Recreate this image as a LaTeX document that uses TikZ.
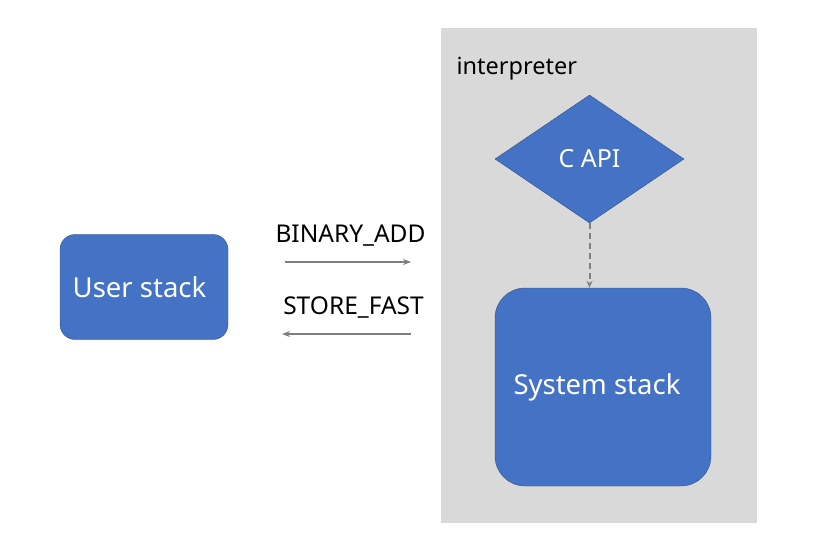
\documentclass[tikz,border=0pt]{standalone}
\usepackage{fontspec}
\setmainfont{Noto Sans}
\usepackage{tikz}
\usetikzlibrary{shapes.geometric,arrows.meta}
\definecolor{boxblue}{HTML}{4472C4}
\definecolor{boxedge}{HTML}{2F528F}
\definecolor{interp}{HTML}{D9D9D9}
\definecolor{wire}{HTML}{7F7F7F}

\begin{document}
\begin{tikzpicture}[x=1pt,y=-1pt,
    stackbox/.style={draw=boxedge,fill=boxblue,text=white,inner sep=0pt},
    opname/.style={font=\fontsize{24.5}{28}\selectfont},
    flow/.style={draw=wire,line width=2pt,-{Stealth[length=8pt,width=6pt]}}]
  \useasboundingbox (0,0) rectangle (838,548);
  \fill[interp] (441,28) rectangle (757,523);
  \node[anchor=west,font=\fontsize{23.5}{27}\selectfont] (interp) at (453,69) {interpreter};
  % interpreter side
  \node[stackbox,diamond,aspect=1.48,minimum width=189pt,minimum height=128pt,
        font=\fontsize{25}{29}\selectfont] (capi) at (589.5,159) {C API};
  \node[stackbox,rounded corners=30pt,minimum width=216pt,minimum height=198pt,
        font=\fontsize{27.5}{32}\selectfont] (sys) at (603,387)
        {\hspace*{-12pt}\raisebox{-4pt}{System stack}};
  \draw[draw=wire,line width=2pt,dash pattern=on 6pt off 4pt,-{Stealth[length=7pt,width=6pt]}]
    (capi.south) -- (capi.south |- sys.north);
  % user side
  \node[stackbox,rounded corners=15pt,minimum width=168pt,minimum height=105pt,
        font=\fontsize{27.5}{32}\selectfont] (user) at (144,287) {\hspace*{-9pt}User stack};
  \coordinate (addfrom) at (285,262);
  \coordinate (addto) at (411,262);
  \coordinate (storefrom) at (411,334);
  \coordinate (storeto) at (282,334);
  \draw[flow] (addfrom) -- (addto);
  \draw[flow] (storefrom) -- (storeto);
  \node[opname] (addlbl) at (350.5,236) {BINARY\_ADD};
  \node[opname] (storelbl) at (353.5,308) {STORE\_FAST};
\end{tikzpicture}
\end{document}
